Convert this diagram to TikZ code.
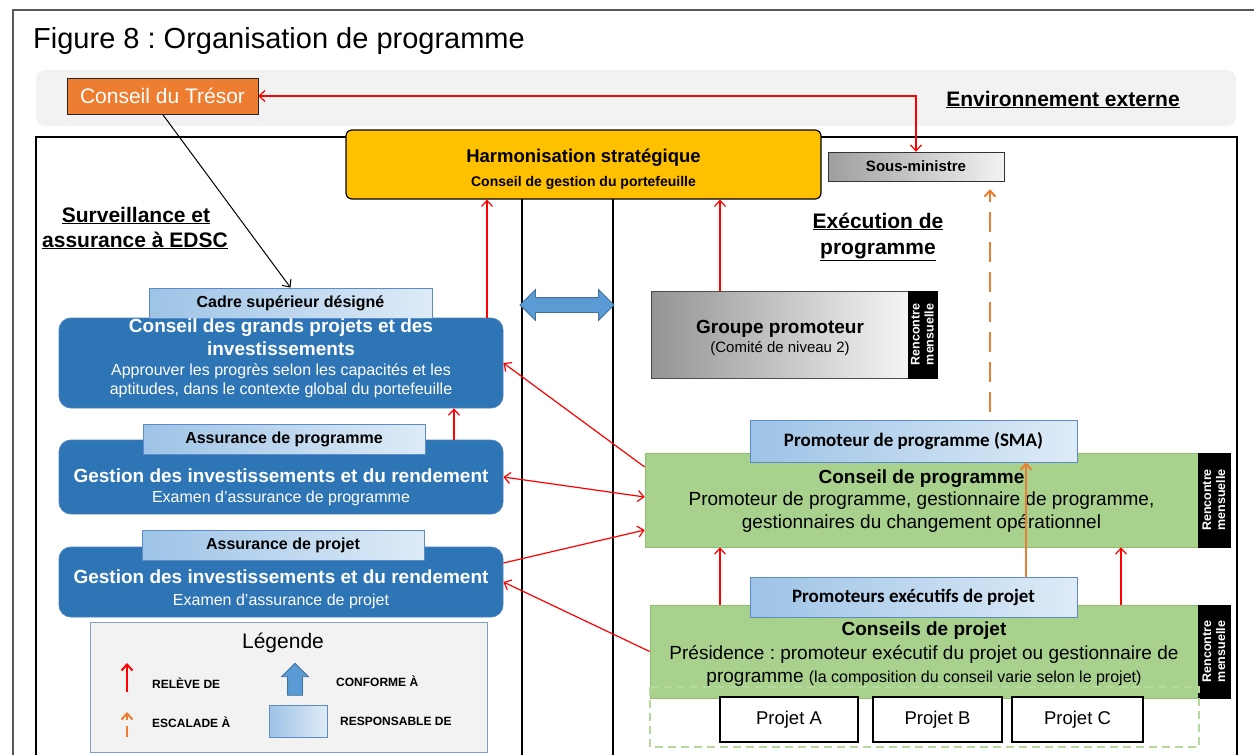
\documentclass[tikz,border=0pt]{standalone}
\usepackage{fontspec}
\setmainfont{Liberation Sans}
\newfontfamily\calib{Carlito}
\usetikzlibrary{arrows.meta,shapes.arrows}
\frenchspacing

\definecolor{relred}{HTML}{FF0000}
\definecolor{escor}{HTML}{ED7D31}
\definecolor{boardblue}{HTML}{2E75B6}
\definecolor{boardedge}{HTML}{4A82BE}
\definecolor{tagleft}{HTML}{9DC3E6}
\definecolor{tagright}{HTML}{DEEBF7}
\definecolor{tagedge}{HTML}{5B8BC9}
\definecolor{councilfill}{HTML}{A9D18E}
\definecolor{counciledge}{HTML}{8CC06C}
\definecolor{councildash}{HTML}{B5D99C}
\definecolor{gold}{HTML}{FFC000}
\definecolor{envgrey}{HTML}{F2F2F2}
\definecolor{framegrey}{HTML}{595959}
\definecolor{arrowblue}{HTML}{5B9BD5}
\definecolor{arrowedge}{HTML}{41719C}
\definecolor{legendedge}{HTML}{7F9FC8}

\newcommand\setfs[1]{\fontsize{#1}{#1}\selectfont}

\tikzset{
  txt/.style={anchor=base, inner sep=0pt},
  board/.style={draw=boardedge, fill=boardblue, rounded corners=12pt, line width=0.8pt, inner sep=0pt},
  tagbox/.style={draw=tagedge, left color=tagleft, right color=tagright, line width=0.9pt, inner sep=0pt},
  council/.style={fill=councilfill, draw=counciledge, line width=0.6pt, inner sep=0pt},
  strip/.style={fill=black, draw=black, rotate=90, inner sep=0pt, text=white, align=center,
    font=\bfseries\fontsize{12.5}{14}\selectfont},
  projbox/.style={draw=black, line width=1.2pt, fill=white, minimum height=45pt, inner sep=0pt,
    font=\setfs{18.5}},
  barb/.tip={Straight Barb[length=6pt,width=11pt]},
  rel/.style={draw=relred, line width=1.2pt, -barb},
  relboth/.style={draw=relred, line width=1.2pt, barb-barb},
  esc/.style={draw=escor, line width=2pt, dash pattern=on 20pt off 10pt, -barb},
  escline/.style={draw=escor, line width=2pt, -barb},
  blk/.style={draw=black, line width=1pt, -barb},
}

\begin{document}
\begin{tikzpicture}[x=1pt,y=-1pt]
\useasboundingbox (0,0) rectangle (1254,755);
\fill[white] (0,0) rectangle (1254,755);

% external environment band and frames
\fill[envgrey, rounded corners=9pt] (36,70) rectangle (1236,126);
\draw[framegrey, line width=1.5pt] (13,755) -- (13,10) -- (1254,10);
\draw[line width=1.5pt] (36,755) -- (36,137) -- (522,137) -- (522,755);
\draw[line width=1.5pt] (613,755) -- (613,137) -- (1237,137) -- (1237,755);

\node[txt, anchor=base west, font=\setfs{29}] (title) at (33,48) {Figure 8 : Organisation de programme};
\node[txt, font=\bfseries\setfs{21}] (envt) at (1063,106) {\underline{Environnement externe}};

% top level
\node[draw=black!85, fill=escor, minimum width=191pt, minimum height=36pt, inner sep=0pt,
  text=white, font=\setfs{21}] (trs) at (162.5,96) {Conseil du Trésor};
\node[draw=black, line width=1.2pt, fill=gold, rounded corners=6pt, minimum width=475pt,
  minimum height=69pt, inner sep=0pt] (harm) at (583.5,164.5) {};
\node[txt, font=\bfseries\setfs{18.5}] (harmA) at (583.5,162) {Harmonisation stratégique};
\node[txt, font=\bfseries\setfs{14}] (harmB) at (583.5,186) {Conseil de gestion du portefeuille};
\node[draw=black!80, left color=black!38, right color=black!5, minimum width=176pt,
  minimum height=29pt, inner sep=0pt, font=\bfseries\setfs{15}] (sous) at (916,166.5) {Sous-ministre};

% section headings
\node[txt, font=\bfseries\setfs{21}] (survA) at (136,222) {\underline{Surveillance et}};
\node[txt, font=\bfseries\setfs{21}] (survB) at (135,247) {\underline{assurance à EDSC}};
\node[txt, font=\bfseries\setfs{21}] (execA) at (878,228) {\underline{Exécution de}};
\node[txt, font=\bfseries\setfs{21}] (execB) at (878,254) {\underline{programme}};

% oversight boards
\node[board, minimum width=444pt, minimum height=90pt] (cgp) at (281,363) {};
\node[tagbox, minimum width=283pt, minimum height=30pt, font=\bfseries\setfs{16}] (cadre) at (290.5,303) {Cadre supérieur désigné};
\node[txt, text=white, font=\bfseries\setfs{19}] (cgpA) at (281,332) {Conseil des grands projets et des};
\node[txt, text=white, font=\bfseries\setfs{19}] (cgpB) at (281,355) {investissements};
\node[txt, text=white, font=\setfs{16}] (cgpC) at (281,375) {Approuver les progrès selon les capacités et les};
\node[txt, text=white, font=\setfs{16}] (cgpD) at (281,394) {aptitudes, dans le contexte global du portefeuille};

\node[board, minimum width=444pt, minimum height=74pt] (g1) at (281,477) {};
\node[tagbox, minimum width=282pt, minimum height=30pt, font=\bfseries\setfs{16}] (assprog) at (284,439) {Assurance de programme};
\node[txt, text=white, font=\bfseries\setfs{19}] (g1A) at (281,482) {Gestion des investissements et du rendement};
\node[txt, text=white, font=\setfs{16}] (g1B) at (281,502) {Examen d’assurance de programme};

\node[board, minimum width=444pt, minimum height=70pt] (g2) at (281,582) {};
\node[tagbox, minimum width=282pt, minimum height=30pt, font=\bfseries\setfs{16}] (assproj) at (283,545) {Assurance de projet};
\node[txt, text=white, font=\bfseries\setfs{19}] (g2A) at (281,583) {Gestion des investissements et du rendement};
\node[txt, text=white, font=\setfs{16}] (g2B) at (281,605) {Examen d’assurance de projet};

% link between the two sides
\node[double arrow, fill=arrowblue, draw=arrowedge, line width=0.8pt, minimum height=94pt,
  inner sep=7pt, double arrow head extend=8pt] (dbl) at (567,305) {};

% execution side
\node[draw=black!70, line width=1pt, left color=black!42, right color=black!4, minimum width=257pt,
  minimum height=87pt, inner sep=0pt] (grp) at (779.5,334.5) {};
\node[strip, minimum width=87pt, minimum height=29pt] (grpm) at (922.5,334.5) {Rencontre\\mensuelle};
\node[txt, font=\bfseries\setfs{19}] (grpA) at (780,333) {Groupe promoteur};
\node[txt, font=\setfs{15}] (grpB) at (780,352) {(Comité de niveau 2)};

\node[council, minimum width=553pt, minimum height=94pt] (cprog) at (921.5,500) {};
\node[strip, minimum width=94pt, minimum height=32pt] (cprogm) at (1214,500) {Rencontre\\mensuelle};
\node[tagbox, minimum width=327pt, minimum height=42pt, font=\calib\bfseries\setfs{19}] (sma) at (913.5,441) {Promoteur de programme (SMA)};
\node[txt, font=\bfseries\setfs{19}] (cprogA) at (921.5,483) {Conseil de programme};
\node[txt, font=\setfs{19}] (cprogB) at (921.5,505) {Promoteur de programme, gestionnaire de programme,};
\node[txt, font=\setfs{19}] (cprogC) at (921.5,528) {gestionnaires du changement opérationnel};

\node[council, minimum width=548pt, minimum height=93pt] (cproj) at (924,651.5) {};
\node[strip, minimum width=93pt, minimum height=32pt] (cprojm) at (1214,651.5) {Rencontre\\mensuelle};
\node[tagbox, minimum width=327pt, minimum height=40pt, font=\calib\bfseries\setfs{19}] (pep) at (913.5,597) {Promoteurs exécutifs de projet};
\node[txt, font=\bfseries\setfs{19}] (cprojA) at (924,635) {Conseils de projet};
\node[txt, font=\setfs{19}] (cprojB) at (924,659) {Présidence : promoteur exécutif du projet ou gestionnaire de};
\node[txt, font=\setfs{19}] (cprojC) at (924,682) {programme {\setfs{16}(la composition du conseil varie selon le projet)}};

\draw[councildash, line width=1.5pt, dash pattern=on 8pt off 5pt] (650,687) rectangle (1199,747);
\node[projbox, minimum width=138pt] (pa) at (789,719.5) {Projet A};
\node[projbox, minimum width=129pt] (pb) at (937.5,719.5) {Projet B};
\node[projbox, minimum width=131pt] (pc) at (1077.5,719.5) {Projet C};

% legend
\node[draw=legendedge, line width=1pt, fill=envgrey, minimum width=397pt, minimum height=130pt,
  inner sep=0pt] (leg) at (288.5,687) {};
\node[txt, font=\setfs{21}] (legt) at (283,648) {Légende};
\coordinate (lrA) at (127,692);
\coordinate (lrB) at (127,663);
\draw[rel, line width=2pt] (lrA) -- (lrB);
\node[txt, anchor=base west, font=\bfseries\setfs{12}] (lrt) at (152,688) {RELÈVE DE};
\coordinate (leA) at (127,737);
\coordinate (leB) at (127,712);
\draw[esc, dash pattern=on 11pt off 6pt] (leA) -- (leB);
\node[txt, anchor=base west, font=\bfseries\setfs{12}] (let) at (152,727) {ESCALADE À};
\node[single arrow, shape border rotate=90, fill=arrowblue, draw=arrowedge, line width=0.8pt,
  minimum height=32pt, inner sep=7pt, single arrow head extend=6pt] (lcf) at (295,683) {};
\node[txt, anchor=base west, font=\bfseries\setfs{12}] (lcft) at (336,686) {CONFORME À};
\node[tagbox, minimum width=58pt, minimum height=32pt] (lrs) at (298,721) {};
\node[txt, anchor=base west, font=\bfseries\setfs{12}] (lrst) at (340,725) {RESPONSABLE DE};

% reporting and escalation lines
\draw[blk] (trs.south) -- (cadre.north);
\draw[relboth] (trs.east) -| (sous.north);
\draw[rel] (cgp.north -| 487,0) -- (harm.south -| 487,0);
\draw[rel] (grp.north -| 720,0) -- (harm.south -| 720,0);
\draw[rel] (g1.north -| 454,0) -- (cgp.south -| 454,0);
\draw[rel] ([yshift=33pt]cprog.west) -- (cgp.east);
\draw[relboth] (g1.east) -- ([yshift=3pt]cprog.west);
\draw[rel] ([yshift=19pt]g2.east) -- ([yshift=-30pt]cprog.west);
\draw[rel] (cproj.west) -- (g2.east);
\draw[rel] (cproj.north -| 720,0) -- (cprog.south -| 720,0);
\draw[rel] (cproj.north -| 1121,0) -- (cprog.south -| 1121,0);
\draw[esc, shorten <=8pt, shorten >=8pt] (sma.north -| 990,0) -- (sous.south -| 990,0);
\draw[escline] (pep.north -| 1026,0) -- (sma.south -| 1026,0);
\end{tikzpicture}
\end{document}
